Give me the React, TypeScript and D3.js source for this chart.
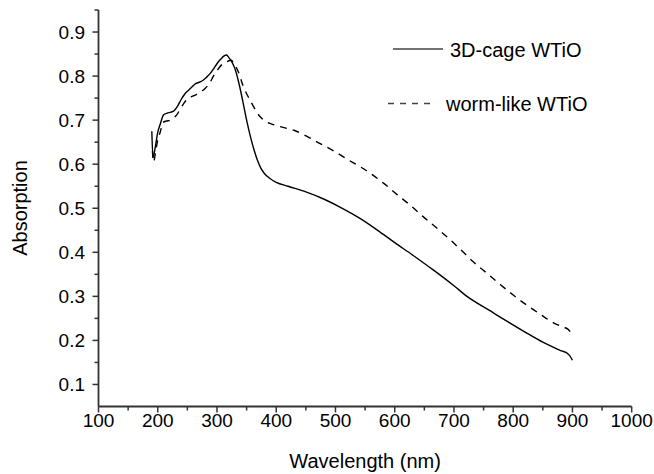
import React, {useRef, useEffect} from 'react'
import * as d3 from 'd3'

// wavelength (nm) / absorption
const cageWavelength = [190, 192, 196, 200, 204, 210, 216, 222, 228, 234, 240, 246, 252, 258, 264, 270, 276, 282, 288, 294, 300, 306, 312, 316, 320, 326, 332, 338, 344, 350, 356, 362, 368, 374, 380, 390, 400, 420, 450, 480, 510, 540, 570, 600, 630, 665, 700, 722, 760, 790, 820, 850, 870, 880, 890, 895, 900]
const cageAbs = [0.675, 0.615, 0.64, 0.672, 0.69, 0.712, 0.716, 0.718, 0.722, 0.733, 0.748, 0.76, 0.768, 0.776, 0.783, 0.786, 0.79, 0.797, 0.805, 0.816, 0.828, 0.838, 0.846, 0.848, 0.842, 0.83, 0.81, 0.778, 0.74, 0.7, 0.665, 0.635, 0.61, 0.591, 0.579, 0.567, 0.559, 0.55, 0.537, 0.521, 0.501, 0.478, 0.451, 0.422, 0.394, 0.36, 0.324, 0.3, 0.268, 0.243, 0.219, 0.196, 0.183, 0.177, 0.172, 0.166, 0.155]

const wormWavelength = [191, 193, 196, 200, 204, 209, 215, 221, 227, 232, 238, 244, 252, 260, 271, 280, 288, 294, 300, 308, 316, 324, 330, 336, 344, 350, 356, 362, 368, 375, 381, 395, 410, 430, 452, 475, 496, 520, 542, 560, 581, 604, 626, 648, 671, 694, 712, 733, 756, 778, 800, 823, 846, 868, 885, 893, 900]
const wormAbs = [0.63, 0.605, 0.625, 0.655, 0.672, 0.695, 0.698, 0.7, 0.705, 0.712, 0.725, 0.738, 0.75, 0.755, 0.763, 0.772, 0.785, 0.8, 0.812, 0.826, 0.832, 0.836, 0.825, 0.81, 0.778, 0.76, 0.745, 0.73, 0.716, 0.705, 0.698, 0.69, 0.684, 0.677, 0.663, 0.646, 0.631, 0.611, 0.594, 0.578, 0.557, 0.531, 0.507, 0.481, 0.455, 0.428, 0.405, 0.378, 0.352, 0.327, 0.303, 0.28, 0.259, 0.24, 0.23, 0.225, 0.212]

const xTicks = [100, 200, 300, 400, 500, 600, 700, 800, 900, 1000]
const yTicks = [0.1, 0.2, 0.3, 0.4, 0.5, 0.6, 0.7, 0.8, 0.9]
const legendLabels = ['3D-cage WTiO', 'worm-like WTiO']

const App = () => {
    const element = useRef(null)

    useEffect(() => {
        const width = 654
        const height = 474
        const left = 98.5, right = 631.7, top = 10, bottom = 406.5
        const font = 'Arial, "Liberation Sans", sans-serif'

        const root = d3.select(element.current)
        root.selectAll('*').remove()
        const svg = root.append('svg')
            .attr('width', width)
            .attr('height', height)
            .style('position', 'absolute')
            .style('left', 0)
            .style('top', 0)
            .style('background', '#fff')

        const x = d3.scaleLinear().domain([100, 1000]).range([left, right])
        const y = d3.scaleLinear().domain([0.05, 0.95]).range([bottom, top])

        const axisColor = '#333'

        // axes lines
        svg.append('line')
            .attr('x1', left).attr('x2', left)
            .attr('y1', top).attr('y2', bottom)
            .attr('stroke', axisColor).attr('stroke-width', 1.8)
        svg.append('line')
            .attr('x1', left).attr('x2', right)
            .attr('y1', bottom).attr('y2', bottom)
            .attr('stroke', axisColor).attr('stroke-width', 1.8)

        // x ticks
        const xMinor = d3.range(150, 1000, 100)
        svg.selectAll('.xmaj').data(xTicks).enter().append('line')
            .attr('x1', d => x(d)).attr('x2', d => x(d))
            .attr('y1', bottom).attr('y2', bottom + 6)
            .attr('stroke', axisColor).attr('stroke-width', 1.5)
        svg.selectAll('.xmin').data(xMinor).enter().append('line')
            .attr('x1', d => x(d)).attr('x2', d => x(d))
            .attr('y1', bottom).attr('y2', bottom + 4)
            .attr('stroke', axisColor).attr('stroke-width', 1.5)
        svg.selectAll('.xlab').data(xTicks).enter().append('text')
            .attr('x', d => x(d)).attr('y', 427)
            .attr('text-anchor', 'middle')
            .style('font-family', font).style('font-size', '19px').attr('fill', '#000')
            .text(d => d)

        // y ticks
        const yMinor = d3.range(0.15, 0.96, 0.1)
        svg.selectAll('.ymaj').data(yTicks).enter().append('line')
            .attr('x1', left - 6).attr('x2', left)
            .attr('y1', d => y(d)).attr('y2', d => y(d))
            .attr('stroke', axisColor).attr('stroke-width', 1.5)
        svg.selectAll('.ymin').data(yMinor).enter().append('line')
            .attr('x1', left - 4).attr('x2', left)
            .attr('y1', d => y(d)).attr('y2', d => y(d))
            .attr('stroke', axisColor).attr('stroke-width', 1.5)
        svg.selectAll('.ylab').data(yTicks).enter().append('text')
            .attr('x', 85).attr('y', d => y(d) + 7)
            .attr('text-anchor', 'end')
            .style('font-family', font).style('font-size', '19px').attr('fill', '#000')
            .text(d => d.toFixed(1))

        // axis titles
        svg.append('text')
            .attr('x', (left + right) / 2).attr('y', 468)
            .attr('text-anchor', 'middle')
            .style('font-family', font).style('font-size', '20px')
            .text('Wavelength (nm)')
        svg.append('text')
            .attr('transform', 'translate(27,208) rotate(-90)')
            .attr('text-anchor', 'middle')
            .style('font-family', font).style('font-size', '20px')
            .text('Absorption')

        // curves
        const line = d3.line()
            .x(d => x(d[0]))
            .y(d => y(d[1]))
            .curve(d3.curveMonotoneX)

        const cage = cageWavelength.map((w, i) => [w, cageAbs[i]])
        const worm = wormWavelength.map((w, i) => [w, wormAbs[i]])

        svg.append('path')
            .attr('d', line(cage))
            .attr('fill', 'none')
            .attr('stroke', '#000')
            .attr('stroke-width', 1.4)
        svg.append('path')
            .attr('d', line(worm))
            .attr('fill', 'none')
            .attr('stroke', '#000')
            .attr('stroke-width', 1.4)
            .attr('stroke-dasharray', '7,6')

        // legend
        svg.append('line')
            .attr('x1', 393).attr('x2', 443).attr('y1', 49).attr('y2', 49)
            .attr('stroke', '#444').attr('stroke-width', 1.4)
        svg.append('text')
            .attr('x', 450).attr('y', 56.5)
            .style('font-family', font).style('font-size', '20px')
            .text(legendLabels[0])
        svg.append('line')
            .attr('x1', 388).attr('x2', 436).attr('y1', 103.5).attr('y2', 103.5)
            .attr('stroke', '#444').attr('stroke-width', 1.4)
            .attr('stroke-dasharray', '6,6')
        svg.append('text')
            .attr('x', 446).attr('y', 111)
            .style('font-family', font).style('font-size', '20px')
            .text(legendLabels[1])

        return () => {
            root.selectAll('*').remove()
        }
    }, [])

    return (
        <div ref={element}></div>
    )
}

export default App
